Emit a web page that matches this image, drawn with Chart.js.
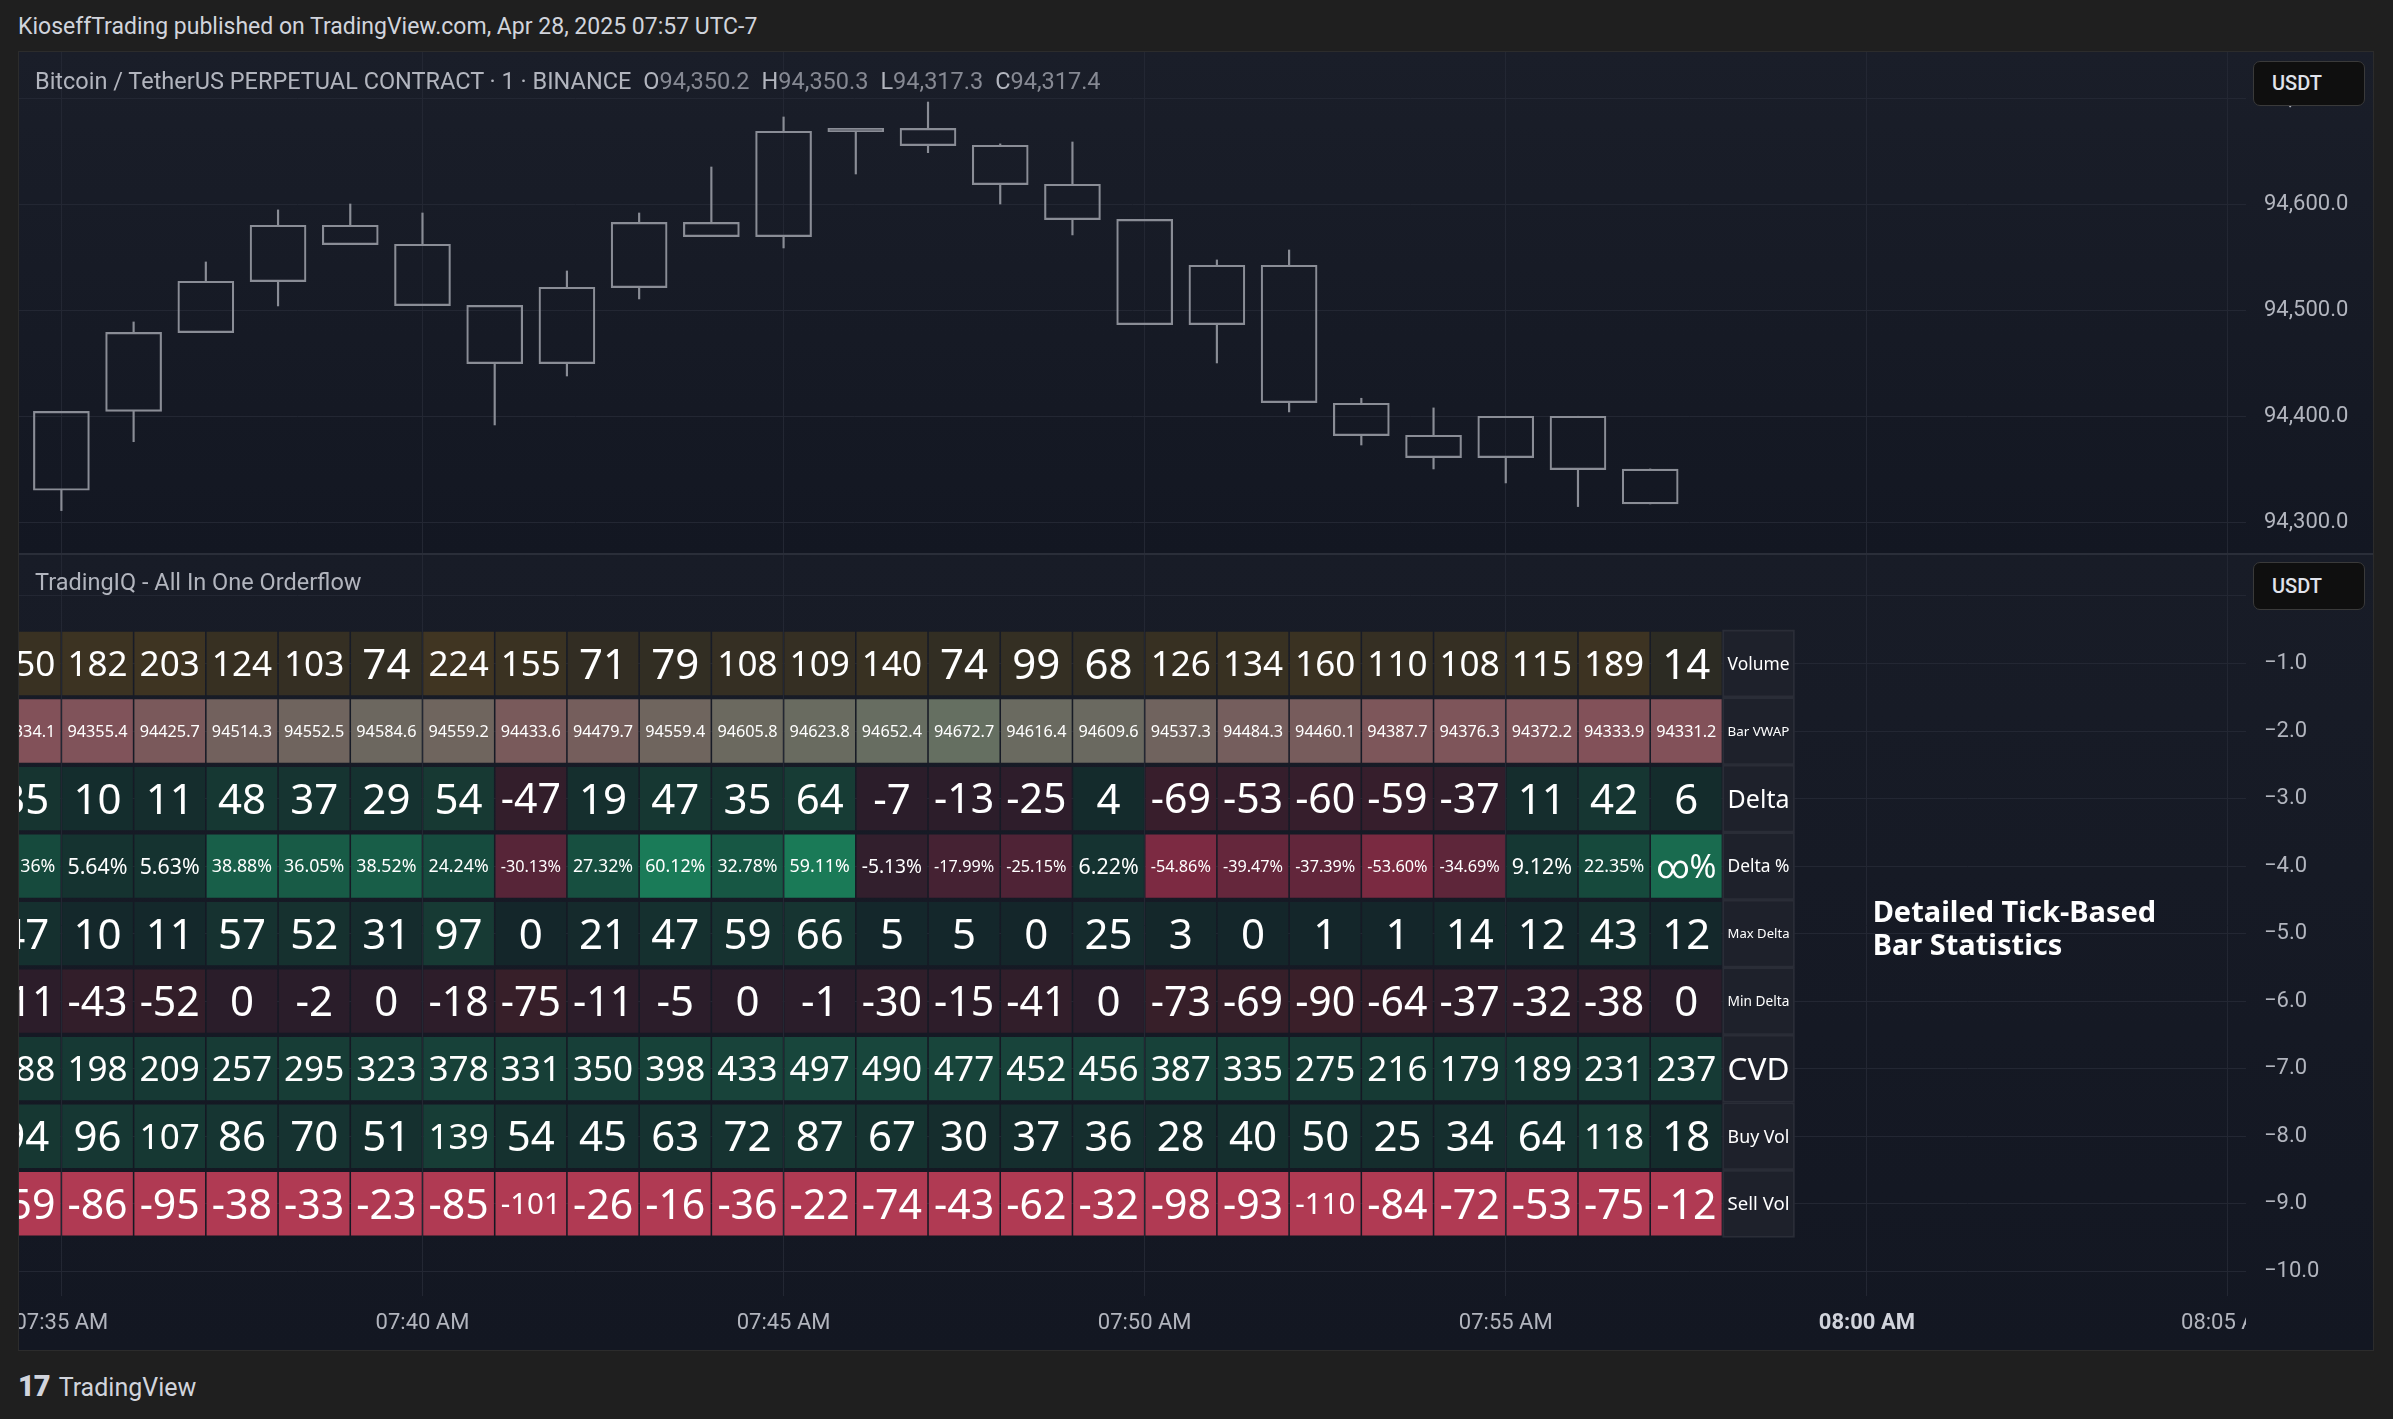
<!DOCTYPE html>
<html>
<head>
<meta charset="utf-8">
<script src="https://cdn.jsdelivr.net/npm/chart.js@4.4.1/dist/chart.umd.min.js"></script>
<style>
  html, body { margin: 0; padding: 0; width: 2393px; height: 1419px; overflow: hidden; background: #1f1f1f; font-family: Roboto, "Noto Sans", sans-serif; }
  #header { position: absolute; left: 18px; top: 13px; color: #d1d4dc; font-size: 23px; white-space: nowrap; }
  #frame { position: absolute; left: 18px; top: 51px; width: 2356px; height: 1300px; box-sizing: border-box; border: 1px solid #2c2c2c; overflow: hidden; }
  #pricePane { position: absolute; left: 0; top: 0; width: 2354px; height: 501px; background: linear-gradient(#1a1e29, #131722); }
  #sep { position: absolute; left: 0; top: 501px; width: 2354px; height: 2px; background: #2a2e39; }
  #statPane { position: absolute; left: 0; top: 503px; width: 2354px; height: 795px; background: linear-gradient(#181c27, #131722); }
  .title { position: absolute; left: 16px; color: #b2b5be; font-size: 23.5px; white-space: nowrap; z-index: 3; }
  .title .v { color: #868993; }
  .title .k { margin-left: 12px; }
  .unit { position: absolute; left: 2234px; width: 112px; box-sizing: border-box; background: #0f0f0f; border: 1px solid #3a3a3a; border-radius: 7px; color: #e0e3eb; font-size: 20px; font-weight: 500; padding-left: 18px; z-index: 3; }
  #footer { position: absolute; left: 18px; top: 1369px; color: #d1d4dc; font-size: 25px; white-space: nowrap; }
  #footer b { font-size: 29px; font-weight: 900; letter-spacing: -1px; margin-right: 9px; }
  canvas { position: absolute; left: 0; top: 0; }
</style>
</head>
<body>
<div id="header">KioseffTrading published on TradingView.com, Apr 28, 2025 07:57 UTC-7</div>
<div id="frame">
  <div id="pricePane">
    <div class="title" style="top:15px">Bitcoin / TetherUS PERPETUAL CONTRACT · 1 · BINANCE<span class="k">O<span class="v">94,350.2</span></span><span class="k">H<span class="v">94,350.3</span></span><span class="k">L<span class="v">94,317.3</span></span><span class="k">C<span class="v">94,317.4</span></span></div>
    <div class="unit" style="top:9px;height:45px;line-height:43px">USDT</div>
    <div style="position:absolute;left:0;top:0;width:2354px;height:501px"><canvas id="priceChart"></canvas></div>
  </div>
  <div id="sep"></div>
  <div id="statPane">
    <div class="title" style="top:13px">TradingIQ - All In One Orderflow</div>
    <div class="unit" style="top:7px;height:48px;line-height:46px">USDT</div>
    <div style="position:absolute;left:0;top:0;width:2354px;height:795px"><canvas id="statChart"></canvas></div>
  </div>
</div>
<div id="footer"><b>17</b>TradingView</div>

<script>
// 1-minute candles, first bar 07:35
var open  = [94330.2, 94404.7, 94479.0, 94527.0, 94580.2, 94562.3, 94504.7, 94449.7, 94521.4, 94583.0, 94569.5, 94668.6, 94671.7, 94655.7, 94618.9, 94585.8, 94486.5, 94542.5, 94412.3, 94382.1, 94361.0, 94400.0, 94350.2];
var high  = [94404.7, 94489.0, 94545.6, 94594.7, 94600.3, 94591.8, 94504.7, 94537.1, 94591.8, 94635.2, 94682.4, 94671.7, 94696.5, 94657.0, 94658.8, 94585.8, 94547.5, 94556.9, 94417.0, 94407.9, 94400.0, 94400.0, 94350.3];
var low   = [94311.0, 94376.0, 94478.9, 94504.1, 94562.0, 94504.4, 94391.8, 94438.0, 94510.7, 94569.5, 94558.8, 94628.6, 94648.7, 94600.3, 94571.1, 94486.5, 94450.3, 94404.1, 94372.9, 94350.3, 94337.1, 94314.8, 94317.3];
var close = [94404.7, 94479.2, 94527.4, 94580.2, 94562.0, 94504.4, 94449.7, 94521.7, 94583.0, 94569.5, 94668.9, 94671.7, 94655.3, 94618.6, 94585.5, 94486.5, 94542.5, 94412.9, 94381.8, 94361.0, 94400.0, 94349.7, 94317.4];

var timeTickIdx = [0, 5, 10, 15, 20, 25, 30];
var timeLabels = ['07:35 AM', '07:40 AM', '07:45 AM', '07:50 AM', '07:55 AM', '08:00 AM', '08:05 AM'];
var priceTicks = [94300, 94400, 94500, 94600, 94700];
var paneTicks = [0, -1, -2, -3, -4, -5, -6, -7, -8, -9, -10];

// table columns (first one is cut by the left edge)
var rowLabels = ['Volume', 'Bar VWAP', 'Delta', 'Delta %', 'Max Delta', 'Min Delta', 'CVD', 'Buy Vol', 'Sell Vol'];
var volume   = [150, 182, 203, 124, 103, 74, 224, 155, 71, 79, 108, 109, 140, 74, 99, 68, 126, 134, 160, 110, 108, 115, 189, 14];
var vwap     = [94334.1, 94355.4, 94425.7, 94514.3, 94552.5, 94584.6, 94559.2, 94433.6, 94479.7, 94559.4, 94605.8, 94623.8, 94652.4, 94672.7, 94616.4, 94609.6, 94537.3, 94484.3, 94460.1, 94387.7, 94376.3, 94372.2, 94333.9, 94331.2];
var delta    = [35, 10, 11, 48, 37, 29, 54, -47, 19, 47, 35, 64, -7, -13, -25, 4, -69, -53, -60, -59, -37, 11, 42, 6];
var deltaPct = [23.36, 5.64, 5.63, 38.88, 36.05, 38.52, 24.24, -30.13, 27.32, 60.12, 32.78, 59.11, -5.13, -17.99, -25.15, 6.22, -54.86, -39.47, -37.39, -53.60, -34.69, 9.12, 22.35, Infinity];
var maxDelta = [47, 10, 11, 57, 52, 31, 97, 0, 21, 47, 59, 66, 5, 5, 0, 25, 3, 0, 1, 1, 14, 12, 43, 12];
var minDelta = [-11, -43, -52, 0, -2, 0, -18, -75, -11, -5, 0, -1, -30, -15, -41, 0, -73, -69, -90, -64, -37, -32, -38, 0];
var cvd      = [188, 198, 209, 257, 295, 323, 378, 331, 350, 398, 433, 497, 490, 477, 452, 456, 387, 335, 275, 216, 179, 189, 231, 237];
var buyVol   = [94, 96, 107, 86, 70, 51, 139, 54, 45, 63, 72, 87, 67, 30, 37, 36, 28, 40, 50, 25, 34, 64, 118, 18];
var sellVol  = [-59, -86, -95, -38, -33, -23, -85, -101, -26, -16, -36, -22, -74, -43, -62, -32, -98, -93, -110, -84, -72, -53, -75, -12];

var note = { lines: ['Detailed Tick-Based', 'Bar Statistics'], x: 25.08, y: -4.68, step: -0.49 };

var GRID = '#232733';
var CANDLE = '#8a8d96';
var AXIS_FONT = { family: 'Roboto, "Noto Sans", sans-serif', size: 22 };
var CELL_FONT = '"Noto Sans", Roboto, sans-serif';
var X_MIN = -0.587, X_MAX = 30.25;

function hex(c) { return [1, 3, 5].map(function(i){ return parseInt(c.slice(i, i + 2), 16); }); }
function mix(a, b, t) {
  t = Math.max(0, Math.min(1, t));
  var A = hex(a), B = hex(b);
  return 'rgb(' + A.map(function(v, i){ return Math.round(v + (B[i] - v) * t); }).join(',') + ')';
}
function maxOf(arr) { return Math.max.apply(null, arr.map(Math.abs).filter(isFinite)); }

Chart.defaults.color = '#b2b5be';
Chart.defaults.font.family = AXIS_FONT.family;

// y axis on the right, fixed width, no extra label padding above/below the plot
function sideAxis(min, max, ticks, fmt) {
  return {
    position: 'right', min: min, max: max,
    afterBuildTicks: function(s){ s.ticks = ticks.map(function(v){ return { value: v }; }); },
    ticks: { color: '#b2b5be', font: AXIS_FONT, padding: 18, callback: fmt },
    grid: { color: GRID, drawTicks: false },
    border: { display: false },
    afterFit: function(s){ s.width = 127; s.paddingTop = 0; s.paddingBottom = 0; }
  };
}

function timeAxis(height) {
  return {
    type: 'linear', min: X_MIN, max: X_MAX, offset: false,
    afterBuildTicks: function(s){ s.ticks = timeTickIdx.map(function(v){ return { value: v }; }); },
    ticks: { display: false },
    grid: { color: GRID, drawTicks: false, offset: false },
    border: { display: false },
    afterFit: function(s){ s.height = height; s.paddingLeft = 0; s.paddingRight = 0; }
  };
}

// ---------- price pane ----------
var idx = close.map(function(_, i){ return i; });
var bodies = idx.map(function(i){ return { x: i, y: [Math.min(open[i], close[i]), Math.max(open[i], close[i])] }; });
var upWick = idx.map(function(i){ return { x: i, y: [Math.max(open[i], close[i]), high[i]] }; });
var loWick = idx.map(function(i){ return { x: i, y: [low[i], Math.min(open[i], close[i])] }; });

new Chart(document.getElementById('priceChart'), {
  type: 'bar',
  data: { datasets: [
    { data: upWick, backgroundColor: CANDLE, barThickness: 1.5, grouped: false, clip: 0 },
    { data: loWick, backgroundColor: CANDLE, barThickness: 1.5, grouped: false, clip: 0 },
    { data: bodies, backgroundColor: 'rgba(0,0,0,0)', borderColor: CANDLE, borderWidth: 1.5, borderSkipped: false, barThickness: 56, grouped: false, clip: 0 }
  ]},
  options: {
    animation: false, responsive: true, maintainAspectRatio: false,
    layout: { padding: 0, autoPadding: false },
    plugins: { legend: { display: false }, tooltip: { enabled: false } },
    scales: {
      x: timeAxis(0),
      y: sideAxis(94271, 94743.7, priceTicks, function(v){
        return v.toLocaleString('en-US', { minimumFractionDigits: 1, maximumFractionDigits: 1 });
      })
    }
  }
});

// ---------- statistics table pane ----------
var vMin = Math.min.apply(null, vwap), vMax = Math.max.apply(null, vwap);
var rows = [
  { values: volume,   fmt: String, color: function(v){ return mix('#2b2a23', '#403522', v / maxOf(volume)); } },
  { values: vwap,     fmt: function(v){ return v.toFixed(1); }, color: function(v){ return mix('#825159', '#656f61', (v - vMin) / (vMax - vMin)); } },
  { values: delta,    fmt: String, color: function(v){ return v >= 0 ? mix('#142a2b', '#173c35', v / 64) : mix('#291d2a', '#381e2c', -v / 69); } },
  { values: deltaPct, fmt: function(v){ return isFinite(v) ? v.toFixed(2) + '%' : '\u221e%'; },
    color: function(v){ return v >= 0 ? mix('#142b2c', '#1a7b58', (isFinite(v) ? v : 48) / 60) : mix('#2a1e2b', '#7c2a42', -v / 55); } },
  { values: maxDelta, fmt: String, color: function(v){ return mix('#14262a', '#173a34', v / maxOf(maxDelta)); } },
  { values: minDelta, fmt: String, color: function(v){ return mix('#2a1d2a', '#3a1f29', -v / maxOf(minDelta)); } },
  { values: cvd,      fmt: String, color: function(v){ return mix('#15302e', '#18463c', v / maxOf(cvd)); } },
  { values: buyVol,   fmt: String, color: function(v){ return mix('#14292b', '#173d36', v / maxOf(buyVol)); } },
  { values: sellVol,  fmt: String, color: function(){ return '#b03a53'; } }
];

var HALF = 0.464;
var statSets = rows.map(function(row, r){
  var yv = -(r + 1);
  return {
    data: row.values.map(function(v, j){ return { x: j - 0.5, y: [yv - HALF, yv + HALF] }; }),
    backgroundColor: row.values.map(row.color),
    texts: row.values.map(row.fmt),
    maxFont: 42,
    barThickness: 70, grouped: false, clip: 0
  };
});
var labelCol = volume.length - 0.5;
statSets.push({
  data: rowLabels.map(function(_, r){ return { x: labelCol, y: [-(r + 1) - 0.5, -(r + 1) + 0.5] }; }),
  backgroundColor: '#1e212b', borderColor: '#2a2d37', borderWidth: 2, borderSkipped: false,
  texts: rowLabels, maxFont: 32,
  barThickness: 72, grouped: false, clip: 0
});

function fitFont(ctx, txt, width, maxSize) {
  ctx.font = '100px ' + CELL_FONT;
  var w = ctx.measureText(txt).width;
  return Math.min(maxSize, 100 * width / w);
}

var cellText = {
  id: 'cellText',
  afterDatasetsDraw: function(chart) {
    var ctx = chart.ctx, a = chart.chartArea;
    ctx.save();
    ctx.beginPath();
    ctx.rect(a.left, a.top, a.right - a.left, a.bottom - a.top);
    ctx.clip();
    ctx.fillStyle = '#ffffff';
    ctx.textAlign = 'center';
    ctx.textBaseline = 'alphabetic';
    chart.data.datasets.forEach(function(ds, i){
      if (!ds.texts) return;
      chart.getDatasetMeta(i).data.forEach(function(bar, j){
        var p = bar.getProps(['x', 'y', 'base', 'width'], true);
        var txt = ds.texts[j];
        var size = fitFont(ctx, txt, p.width * 0.86, ds.maxFont);
        ctx.font = size + 'px ' + CELL_FONT;
        ctx.fillText(txt, p.x, (p.y + p.base) / 2 + size * 0.36);
      });
    });
    // side note
    var xs = chart.scales.x, ys = chart.scales.y;
    ctx.textAlign = 'left';
    ctx.font = 'bold 29px "Noto Sans", Roboto, sans-serif';
    note.lines.forEach(function(line, k){
      ctx.fillText(line, xs.getPixelForValue(note.x), ys.getPixelForValue(note.y + k * note.step) + 10);
    });
    ctx.restore();
  }
};

var timeText = {
  id: 'timeText',
  afterDraw: function(chart) {
    var ctx = chart.ctx, a = chart.chartArea, xs = chart.scales.x;
    ctx.save();
    ctx.beginPath();
    ctx.rect(a.left, a.bottom, a.right - a.left, chart.height - a.bottom);
    ctx.clip();
    ctx.textAlign = 'center';
    ctx.textBaseline = 'middle';
    xs.ticks.forEach(function(t, k){
      var lab = timeLabels[k];
      ctx.font = (lab === '08:00 AM' ? 'bold ' : '') + AXIS_FONT.size + 'px ' + AXIS_FONT.family;
      ctx.fillStyle = lab === '08:00 AM' ? '#d1d4dc' : '#b2b5be';
      ctx.fillText(lab, xs.getPixelForValue(t.value), a.bottom + 27);
    });
    ctx.restore();
  }
};

new Chart(document.getElementById('statChart'), {
  type: 'bar',
  data: { datasets: statSets },
  plugins: [cellText, timeText],
  options: {
    animation: false, responsive: true, maintainAspectRatio: false,
    layout: { padding: 0, autoPadding: false },
    plugins: { legend: { display: false }, tooltip: { enabled: false } },
    scales: {
      x: timeAxis(54),
      y: sideAxis(-10.366, 0.6067, paneTicks, function(v){
        return (v < 0 ? '\u2212' : '') + Math.abs(v).toFixed(1);
      })
    }
  }
});
</script>
</body>
</html>
